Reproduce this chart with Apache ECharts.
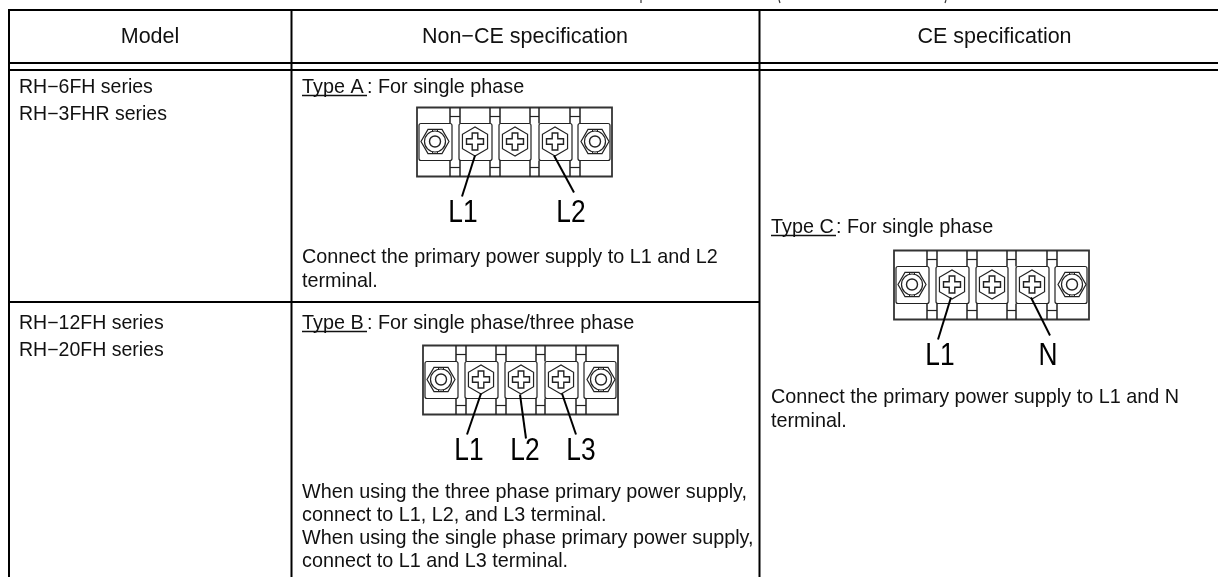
<!DOCTYPE html>
<html><head><meta charset="utf-8">
<style>html,body{margin:0;padding:0;background:#fff}#c{width:1218px;height:577px}</style>
<script src="https://cdn.jsdelivr.net/npm/echarts@6/dist/echarts.min.js"></script>
</head><body><div id="c"></div>
<script>
const headerLabels = ['Model', 'Non\u2212CE specification', 'CE specification'];
const modelsRow1 = ['RH\u22126FH series', 'RH\u22123FHR series'];
const modelsRow2 = ['RH\u221212FH series', 'RH\u221220FH series'];
const typeA = ['Type A', ': For single phase'];
const typeB = ['Type B', ': For single phase/three phase'];
const typeC = ['Type C', ': For single phase'];
const noteA = ['Connect the primary power supply to L1 and L2', 'terminal.'];
const noteB = ['When using the three phase primary power supply,', 'connect to L1, L2, and L3 terminal.', 'When using the single phase primary power supply,', 'connect to L1 and L3 terminal.'];
const noteC = ['Connect the primary power supply to L1 and N', 'terminal.'];

const FONT = '"Liberation Sans", sans-serif';
const SIZE = 19.8;
const els = [];
const line = (x1,y1,x2,y2,w=2,c='#000') => els.push({type:'line',silent:true,shape:{x1,y1,x2,y2},style:{stroke:c,lineWidth:w}});
const text = (x,y,t,o={},extra={}) => els.push(Object.assign({type:'text',silent:true,x,y,style:Object.assign({text:t,fill:'#111',font:`${SIZE}px ${FONT}`,textAlign:'left',textVerticalAlign:'middle'},o)},extra));

// table rules: the table runs off the right edge of the picture
const L=9,C1=291.5,C2=759.5,W=1218,T=10;
line(L-1,T,W,T); line(L-1,63,W,63); line(L-1,70,W,70);
[L,C1,C2].forEach(x=>line(x,T,x,577));
line(L,302,C2,302);
// cropped title descenders at the very top edge
[[641,0,641,3],[779,0,780,3],[946,0,945,3]].forEach(a=>line(a[0],a[1],a[2],a[3],1.2,'#333'));

// text
const hdrX=[150,525,994.5];
headerLabels.forEach((t,i)=>text(hdrX[i],37.5,t,{textAlign:'center',font:`21.5px ${FONT}`}));
modelsRow1.forEach((t,i)=>text(19,88+i*27,t,{font:`19.5px ${FONT}`}));
modelsRow2.forEach((t,i)=>text(19,324+i*27,t,{font:`19.5px ${FONT}`}));
function typed(x,y,arr){ const m=65; text(x,y,arr[0]); text(x+m,y,arr[1]); line(x,y+7.5,x+m,y+7.5,1.3,'#111'); }
typed(302,88,typeA); typed(302,324,typeB); typed(771,228,typeC);
noteA.forEach((t,i)=>text(302,258+i*24,t));
noteB.forEach((t,i)=>text(302,493+i*23,t));
noteC.forEach((t,i)=>text(771,398+i*24,t));

// terminal block
function terminal(ox,oy,leaders,labels){
  const g='#222', lw=1.2;
  const s=(o)=>Object.assign({stroke:g,fill:null,lineWidth:lw},o);
  els.push({type:'rect',silent:true,shape:{x:ox,y:oy,width:195,height:69},style:{stroke:'#333',fill:'#fff',lineWidth:1.8}});
  const cells=[[2,35],[42,75],[82,114],[122,155],[161,193]];
  cells.forEach(c=>{
    els.push({type:'rect',silent:true,shape:{x:ox+c[0],y:oy+16,width:c[1]-c[0],height:37,r:2},style:s({})});
  });
  [[33,43],[73,83],[113,122],[153,163]].forEach(b=>{
    [[0,16],[53,69]].forEach(r=>{ line(ox+b[0],oy+r[0],ox+b[0],oy+r[1],1.5,g); line(ox+b[1],oy+r[0],ox+b[1],oy+r[1],1.5,g); });
    line(ox+b[0],oy+9,ox+b[1],oy+9,1.2,g); line(ox+b[0],oy+60,ox+b[1],oy+60,1.2,g);
  });
  [18,58,98,138,178].forEach((cx,i)=>{
    const x=ox+cx,y=oy+34;
    const end=i%4==0;
    const rot=end?0:Math.PI/2;
    const r=end?14:14.5;
    els.push({type:'polygon',silent:true,shape:{points:[0,1,2,3,4,5].map(k=>{const a=Math.PI/3*k+rot;return [x+r*Math.cos(a),y+r*Math.sin(a)]})},style:s({})});
    if(end){
      els.push({type:'circle',silent:true,shape:{cx:x,cy:y,r:10.5},style:s({})});
      els.push({type:'circle',silent:true,shape:{cx:x,cy:y,r:5.5},style:s({lineWidth:1.4})});
      [-1,1].forEach(d=>{[-2.5,2.5].forEach(dx=>line(x+dx,y+d*10.5,x+dx,y+d*12.5,1,g));});
    } else {
      const a=8.5,b=2.8;
      els.push({type:'polygon',silent:true,shape:{points:[[-b,-a],[b,-a],[b,-b],[a,-b],[a,b],[b,b],[b,a],[-b,a],[-b,b],[-a,b],[-a,-b],[-b,-b]].map(p=>[x+p[0],y+p[1]])},style:s({lineWidth:1.4})});
    }
  });
  leaders.forEach(l=>line(ox+l[0],oy+l[1],ox+l[2],oy+l[3],2,'#000'));
  labels.forEach(l=>text(ox+l[0],oy+106,l[1],{textAlign:'center',font:`31px ${FONT}`,fill:'#000'},{scaleX:0.85}));
}
terminal(417,107.5,[[58,48,45,89],[137,48,157,85]],[[46,'L1'],[154,'L2']]);
terminal(423,345.5,[[58,48,44,89],[97,49,103,93],[139,48,153,89]],[[46,'L1'],[102,'L2'],[158,'L3']]);
terminal(894,250.5,[[57,47,44,89],[137,47,156,85]],[[46,'L1'],[154,'N']]);

const chart=echarts.init(document.getElementById('c'),null,{renderer:'canvas'});
chart.setOption({animation:false,backgroundColor:'#fff',graphic:{elements:els}});
</script></body></html>
